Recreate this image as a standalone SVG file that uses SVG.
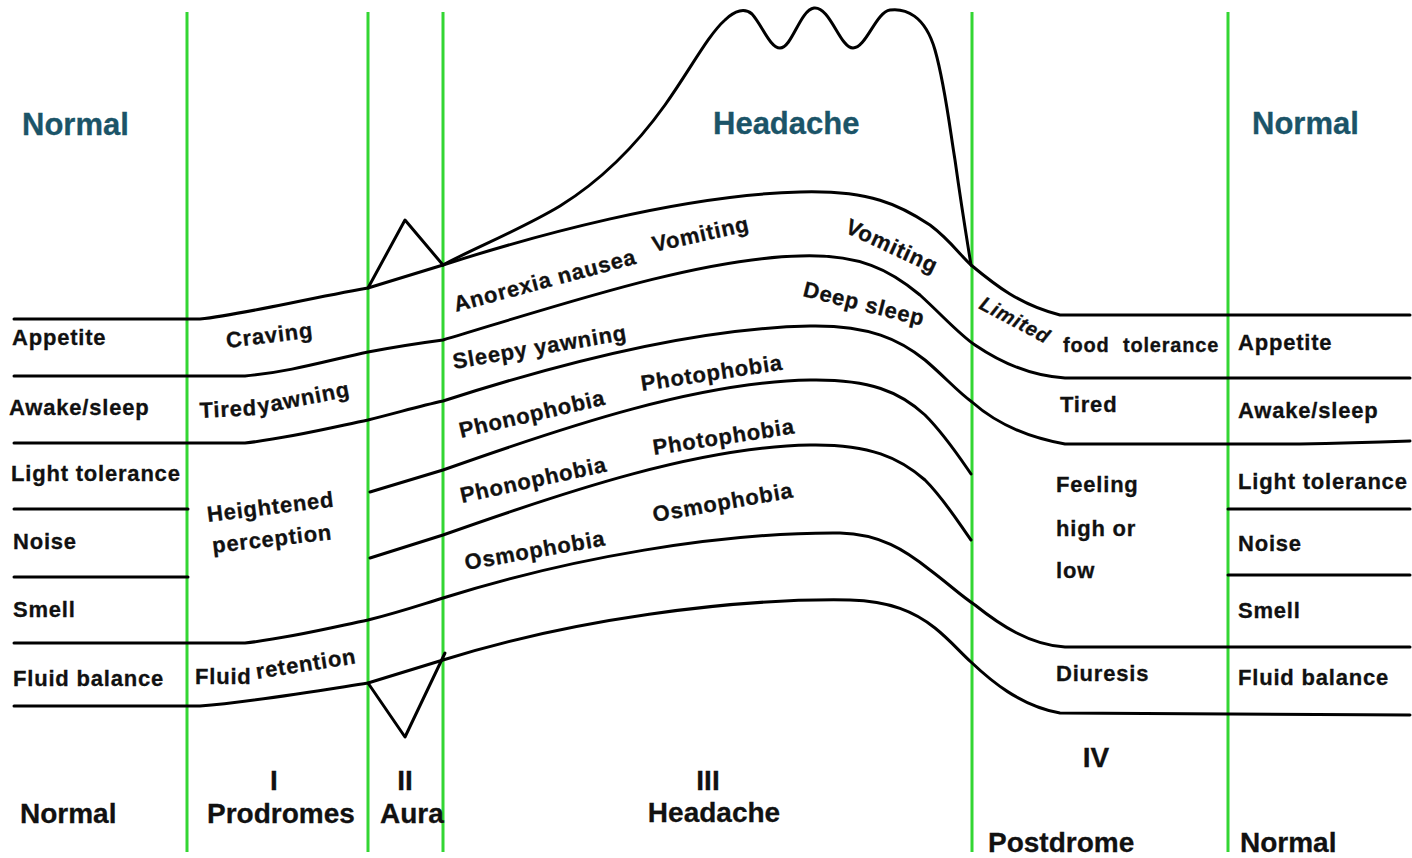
<svg xmlns="http://www.w3.org/2000/svg" width="1412" height="858" viewBox="0 0 1412 858">
<style>
.bg{fill:#ffffff}
.g{stroke:#33d633;stroke-width:3;fill:none}
.k{stroke:#000;stroke-width:3;fill:none;stroke-linejoin:round;stroke-linecap:round}
text{font-family:"Liberation Sans",Arial,sans-serif;font-weight:bold;fill:#111;stroke:#111;stroke-width:0.3px}
.t{font-size:22px;letter-spacing:0.8px}
.s{font-size:20px;letter-spacing:0.8px}
.h{font-size:31px;fill:#1b5468;stroke:#1b5468}
.b{font-size:28px}
.c{text-anchor:middle}
</style>
<rect class="bg" x="0" y="0" width="1412" height="858"/>
<g id="phase-dividers">
<line class="g" x1="187" y1="12" x2="187" y2="852"/>
<line class="g" x1="368" y1="12" x2="368" y2="852"/>
<line class="g" x1="443" y1="12" x2="443" y2="852"/>
<line class="g" x1="972" y1="12" x2="972" y2="852"/>
<line class="g" x1="1228" y1="12" x2="1228" y2="852"/>
</g>
<g id="connectors">
<path id="headache-curve" class="k" d="M443,265 C470,250 520,230 560,206 C605,178 640,140 665,105 C690,70 708,35 725,20 C735,10 745,8 752,14 C762,25 770,48 780,48 C792,48 800,10 814,8 C830,6 840,48 853,48 C866,48 876,12 890,10 C905,8 925,15 935,50 C945,85 950,130 955,160 C962,210 967,240 971,265"/>
<path id="aura-up" class="k" d="M368,288 L405,220 L443,265"/>
<path id="aura-down" class="k" d="M368,683 L405,737 L445,653"/>
<path id="line-a" class="k" d="M14,319 L200,319 C240,315 300,300 368,288 L443,265 C530,237 680,195 800,192 C870,190 900,205 930,225 C950,240 960,255 971,265 C995,285 1020,305 1060,315 L1410,315"/>
<path id="line-b" class="k" d="M14,376 L245,376 C290,372 330,360 368,352 C400,346 420,343 443,340 C560,305 700,258 800,256 C860,254 890,270 920,295 C945,318 960,335 975,345 C1000,362 1030,376 1065,378 L1410,378"/>
<path id="line-c" class="k" d="M14,443 L245,443 C290,438 330,428 368,420 C400,412 420,406 443,401 C570,360 700,328 810,326 C870,325 900,340 925,360 C945,377 958,392 972,402 C990,418 1020,436 1065,444 L1300,444 C1350,443 1380,442 1410,441"/>
<path id="line-d" class="k" d="M14,509 L188,509 M370,492 L443,470 C570,425 700,382 810,380 C870,379 900,392 925,415 C945,435 960,458 971,474 M1228,509 L1410,509"/>
<path id="line-e" class="k" d="M14,577 L188,577 M370,558 L443,535 C570,490 700,447 810,445 C870,444 900,458 925,480 C945,500 960,525 971,540 M1228,575 L1410,575"/>
<path id="line-f" class="k" d="M14,643 L245,643 C290,638 330,628 368,620 C400,612 420,605 443,598 C570,558 720,532 840,533 C880,534 905,550 930,570 C950,585 960,595 975,605 C1000,625 1030,645 1065,647 L1410,647"/>
<path id="line-g" class="k" d="M14,706 L200,706 C250,702 310,692 368,683 L443,660 C570,620 730,598 850,600 C890,601 915,612 935,628 C950,640 960,652 971,662 C990,680 1020,706 1060,713 L1410,715"/>
</g>
<g id="titles">
<text class="h" x="22" y="135">Normal</text>
<text class="h" x="713" y="134">Headache</text>
<text class="h" x="1252" y="134">Normal</text>
</g>
<g id="left-labels">
<text class="t" x="12" y="345">Appetite</text>
<text class="t" x="9" y="415">Awake/sleep</text>
<text class="t" x="11" y="481">Light tolerance</text>
<text class="t" x="13" y="549">Noise</text>
<text class="t" x="13" y="617">Smell</text>
<text class="t" x="13" y="686">Fluid balance</text>
</g>
<g id="prodrome-labels">
<text class="t" transform="translate(227,348) rotate(-7)">Craving</text>
<text class="t" transform="translate(200,418) rotate(-3)">Tired</text>
<text class="t" transform="translate(259,414) rotate(-11)">yawning</text>
<text class="t" transform="translate(208,522) rotate(-7)">Heightened</text>
<text class="t" transform="translate(213,553) rotate(-6.5)">perception</text>
<text class="t" x="195" y="684">Fluid</text>
<text class="t" transform="translate(257,679) rotate(-9)">retention</text>
</g>
<g id="headache-labels">
<text class="t" transform="translate(456,312) rotate(-15)">Anorexia nausea</text>
<text class="t" transform="translate(654,252) rotate(-12.5)">Vomiting</text>
<text class="t" transform="translate(844,232) rotate(25)">Vomiting</text>
<text class="t" transform="translate(802,296) rotate(14)">Deep sleep</text>
<text class="t" transform="translate(454,369) rotate(-9.6)">Sleepy yawning</text>
<text class="t" transform="translate(461,438) rotate(-13)">Phonophobia</text>
<text class="t" transform="translate(642,391) rotate(-8.6)">Photophobia</text>
<text class="t" transform="translate(462,503) rotate(-12.3)">Phonophobia</text>
<text class="t" transform="translate(654,455) rotate(-8.7)">Photophobia</text>
<text class="t" transform="translate(466,570) rotate(-10)">Osmophobia</text>
<text class="t" transform="translate(654,522) rotate(-10)">Osmophobia</text>
</g>
<g id="postdrome-labels">
<text class="s" font-style="italic" transform="translate(978,308) rotate(28)">Limited</text>
<text class="s" x="1063" y="352">food</text>
<text class="s" x="1123" y="352">tolerance</text>
<text class="t" x="1060" y="412">Tired</text>
<text class="t" x="1056" y="492">Feeling</text>
<text class="t" x="1056" y="536">high or</text>
<text class="t" x="1056" y="578">low</text>
<text class="t" x="1056" y="681">Diuresis</text>
</g>
<g id="right-labels">
<text class="t" x="1238" y="350">Appetite</text>
<text class="t" x="1238" y="418">Awake/sleep</text>
<text class="t" x="1238" y="489">Light tolerance</text>
<text class="t" x="1238" y="551">Noise</text>
<text class="t" x="1238" y="618">Smell</text>
<text class="t" x="1238" y="685">Fluid balance</text>
</g>
<g id="phase-labels">
<text class="b" x="20" y="823">Normal</text>
<text class="b c" x="274" y="790">I</text>
<text class="b" x="207" y="823">Prodromes</text>
<text class="b c" x="405" y="790">II</text>
<text class="b" x="380" y="823">Aura</text>
<text class="b c" x="708" y="790">III</text>
<text class="b c" x="714" y="822">Headache</text>
<text class="b c" x="1096" y="767">IV</text>
<text class="b" x="988" y="852">Postdrome</text>
<text class="b" x="1240" y="852">Normal</text>
</g>
</svg>
